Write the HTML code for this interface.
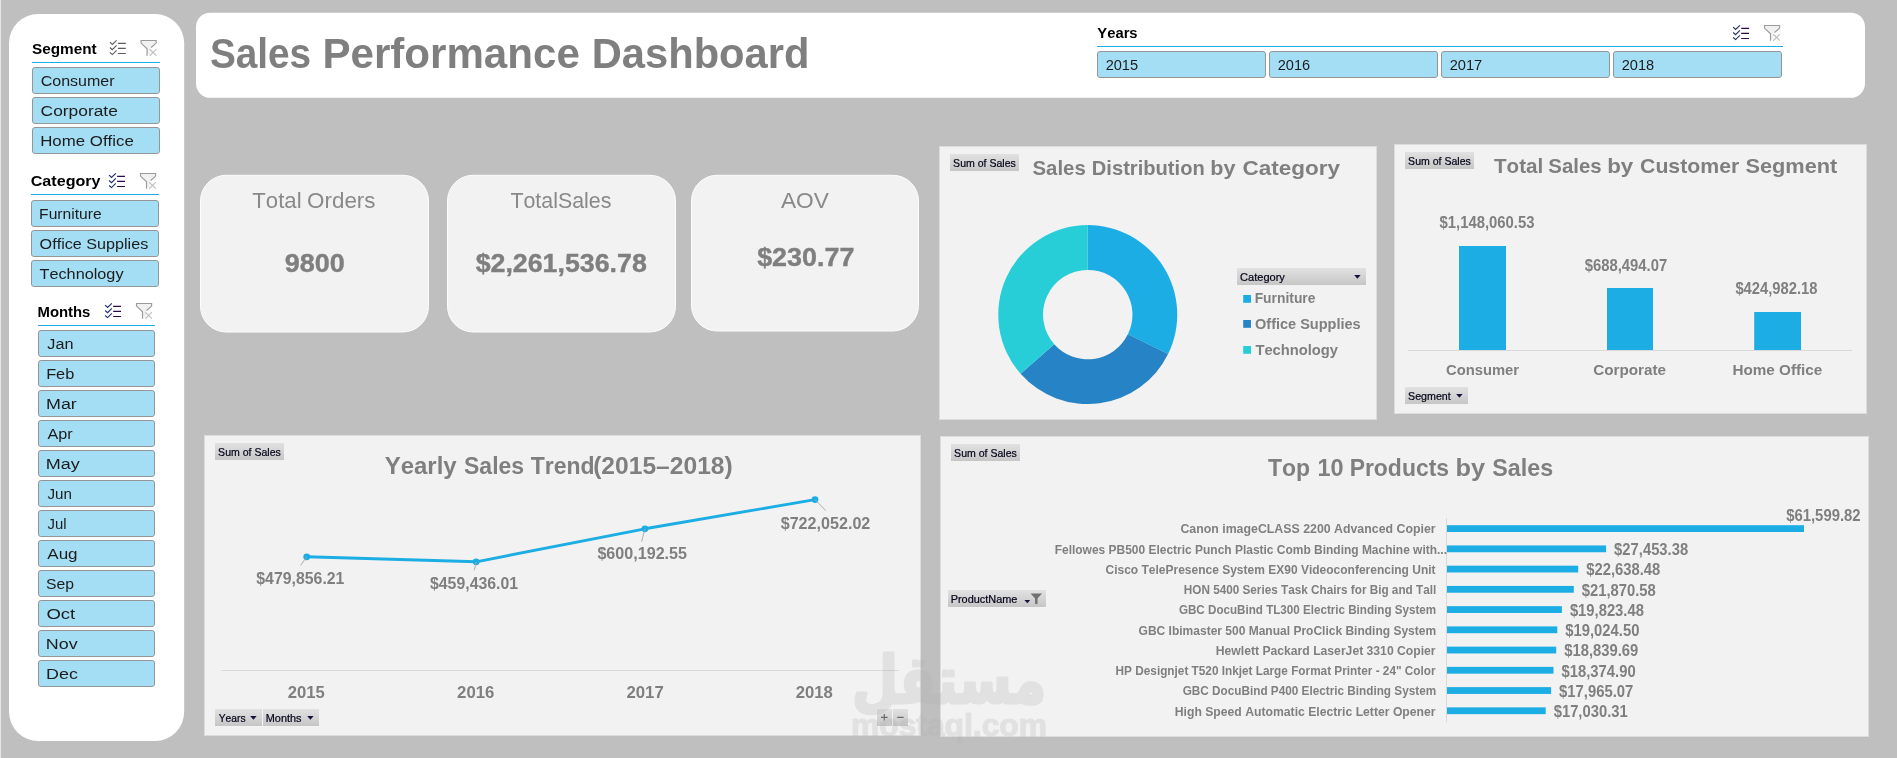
<!DOCTYPE html>
<html lang="en"><head><meta charset="utf-8"><title>Sales Performance Dashboard</title>
<style>html,body{margin:0;padding:0;background:#BFBFBF;overflow:hidden}svg{display:block;will-change:transform}text{font-family:"Liberation Sans",sans-serif;font-kerning:none}.wm{font-family:"DejaVu Sans","Liberation Sans",sans-serif}</style></head><body>
<svg width="1897" height="758" viewBox="0 0 1897 758">
<defs><linearGradient id="fb" x1="0" y1="0" x2="0" y2="1"><stop offset="0" stop-color="#E1E1E1"/><stop offset="0.5" stop-color="#D4D4D4"/><stop offset="1" stop-color="#C6C6C6"/></linearGradient></defs>
<rect width="1897" height="758" fill="#BFBFBF"/>
<rect x="0" y="0" width="1.12" height="758" fill="#E4E4E4"/>
<rect x="9" y="14" width="175.2" height="727" rx="29.2" fill="#fff"/>
<text x="32.06" y="54" font-size="14.7" fill="#000" font-weight="bold" textLength="64.63" lengthAdjust="spacingAndGlyphs">Segment</text>
<g transform="translate(109.6,40.2)" fill="none">
<path d="M0.3 2L2.7 4.3 7 0.1M0.3 7.3L2.7 9.45 7 5.15M0.3 12.3L2.7 14.4 7 10.1" stroke="#5c5c5c" stroke-width="1.1"/>
<path d="M8.3 3.2H16.2M8.3 8.2H16.2M8.3 13.3H16.2" stroke="#5c5c5c" stroke-width="1.2"/>
</g>
<g transform="translate(140.35,40.2)" fill="none">
<path d="M0.7 0.3H15.8V2.9L9.8 8.4V13L6.7 15.6V8.55L0.7 2.9Z" fill="#F1F1F1"/>
<path d="M6.7 15.6V8.55L0.7 2.9V0.3H15.8V2.9L10.8 7.35" stroke="#9A9A9A" stroke-width="1.15"/>
<path d="M9.4 9.1L16.1 15.4M16.1 8.9L9.4 15.6" stroke="#C2C2C2" stroke-width="1.25"/>
</g>
<rect x="32" y="62" width="128" height="1" fill="#1CADE4"/>
<rect x="32.5" y="67.5" width="127" height="26" rx="2.4" fill="#A4DEF4" stroke="#959595"/>
<text x="40.69" y="85.8" font-size="14.7" fill="#1c1c1c" textLength="73.88" lengthAdjust="spacingAndGlyphs">Consumer</text>
<rect x="32.5" y="97.5" width="127" height="26" rx="2.4" fill="#A4DEF4" stroke="#959595"/>
<text x="40.62" y="115.8" font-size="14.7" fill="#1c1c1c" textLength="77.25" lengthAdjust="spacingAndGlyphs">Corporate</text>
<rect x="32.5" y="127.5" width="127" height="26" rx="2.4" fill="#A4DEF4" stroke="#959595"/>
<text x="40.22" y="145.8" font-size="14.7" fill="#1c1c1c" textLength="93.53" lengthAdjust="spacingAndGlyphs">Home Office</text>
<text x="30.74" y="186.2" font-size="14.7" fill="#000" font-weight="bold" textLength="69.85" lengthAdjust="spacingAndGlyphs">Category</text>
<g transform="translate(108.8,173.2)" fill="none">
<path d="M0.3 2L2.7 4.3 7 0.1M0.3 7.3L2.7 9.45 7 5.15M0.3 12.3L2.7 14.4 7 10.1" stroke="#1d2b6b" stroke-width="1.1"/>
<path d="M8.3 3.2H16.2M8.3 8.2H16.2M8.3 13.3H16.2" stroke="#2b0b4d" stroke-width="1.2"/>
</g>
<g transform="translate(139.8,173.2)" fill="none">
<path d="M0.7 0.3H15.8V2.9L9.8 8.4V13L6.7 15.6V8.55L0.7 2.9Z" fill="#F1F1F1"/>
<path d="M6.7 15.6V8.55L0.7 2.9V0.3H15.8V2.9L10.8 7.35" stroke="#9A9A9A" stroke-width="1.15"/>
<path d="M9.4 9.1L16.1 15.4M16.1 8.9L9.4 15.6" stroke="#C2C2C2" stroke-width="1.25"/>
</g>
<rect x="31" y="194" width="128" height="1" fill="#1CADE4"/>
<rect x="31.5" y="200.5" width="127" height="26" rx="2.4" fill="#A4DEF4" stroke="#959595"/>
<text x="39.12" y="218.9" font-size="14.7" fill="#1c1c1c" textLength="62.58" lengthAdjust="spacingAndGlyphs">Furniture</text>
<rect x="31.5" y="230.5" width="127" height="26" rx="2.4" fill="#A4DEF4" stroke="#959595"/>
<text x="39.63" y="248.9" font-size="14.7" fill="#1c1c1c" textLength="108.65" lengthAdjust="spacingAndGlyphs">Office Supplies</text>
<rect x="31.5" y="260.5" width="127" height="26" rx="2.4" fill="#A4DEF4" stroke="#959595"/>
<text x="39.54" y="278.9" font-size="14.7" fill="#1c1c1c" textLength="84.0" lengthAdjust="spacingAndGlyphs">Technology</text>
<text x="37.5" y="316.6" font-size="14.7" fill="#000" font-weight="bold" textLength="52.91" lengthAdjust="spacingAndGlyphs">Months</text>
<g transform="translate(104.85,303.2)" fill="none">
<path d="M0.3 2L2.7 4.3 7 0.1M0.3 7.3L2.7 9.45 7 5.15M0.3 12.3L2.7 14.4 7 10.1" stroke="#1d2b6b" stroke-width="1.1"/>
<path d="M8.3 3.2H16.2M8.3 8.2H16.2M8.3 13.3H16.2" stroke="#2b0b4d" stroke-width="1.2"/>
</g>
<g transform="translate(135.8,303.2)" fill="none">
<path d="M0.7 0.3H15.8V2.9L9.8 8.4V13L6.7 15.6V8.55L0.7 2.9Z" fill="#F1F1F1"/>
<path d="M6.7 15.6V8.55L0.7 2.9V0.3H15.8V2.9L10.8 7.35" stroke="#9A9A9A" stroke-width="1.15"/>
<path d="M9.4 9.1L16.1 15.4M16.1 8.9L9.4 15.6" stroke="#C2C2C2" stroke-width="1.25"/>
</g>
<rect x="38" y="325" width="117" height="1" fill="#1CADE4"/>
<rect x="38.5" y="330.5" width="116" height="26" rx="2.4" fill="#A4DEF4" stroke="#959595"/>
<text x="47.25" y="348.9" font-size="14.7" fill="#1c1c1c" textLength="26.21" lengthAdjust="spacingAndGlyphs">Jan</text>
<rect x="38.5" y="360.5" width="116" height="26" rx="2.4" fill="#A4DEF4" stroke="#959595"/>
<text x="46.16" y="378.9" font-size="14.7" fill="#1c1c1c" textLength="28.12" lengthAdjust="spacingAndGlyphs">Feb</text>
<rect x="38.5" y="390.5" width="116" height="26" rx="2.4" fill="#A4DEF4" stroke="#959595"/>
<text x="46.03" y="408.9" font-size="14.7" fill="#1c1c1c" textLength="30.76" lengthAdjust="spacingAndGlyphs">Mar</text>
<rect x="38.5" y="420.5" width="116" height="26" rx="2.4" fill="#A4DEF4" stroke="#959595"/>
<text x="47.47" y="438.9" font-size="14.7" fill="#1c1c1c" textLength="25.2" lengthAdjust="spacingAndGlyphs">Apr</text>
<rect x="38.5" y="450.5" width="116" height="26" rx="2.4" fill="#A4DEF4" stroke="#959595"/>
<text x="45.82" y="468.9" font-size="14.7" fill="#1c1c1c" textLength="34.01" lengthAdjust="spacingAndGlyphs">May</text>
<rect x="38.5" y="480.5" width="116" height="26" rx="2.4" fill="#A4DEF4" stroke="#959595"/>
<text x="47.56" y="498.9" font-size="14.7" fill="#1c1c1c" textLength="24.42" lengthAdjust="spacingAndGlyphs">Jun</text>
<rect x="38.5" y="510.5" width="116" height="26" rx="2.4" fill="#A4DEF4" stroke="#959595"/>
<text x="47.57" y="528.9" font-size="14.7" fill="#1c1c1c" textLength="19.03" lengthAdjust="spacingAndGlyphs">Jul</text>
<rect x="38.5" y="540.5" width="116" height="26" rx="2.4" fill="#A4DEF4" stroke="#959595"/>
<text x="47.27" y="558.9" font-size="14.7" fill="#1c1c1c" textLength="30.33" lengthAdjust="spacingAndGlyphs">Aug</text>
<rect x="38.5" y="570.5" width="116" height="26" rx="2.4" fill="#A4DEF4" stroke="#959595"/>
<text x="46.09" y="588.9" font-size="14.7" fill="#1c1c1c" textLength="27.97" lengthAdjust="spacingAndGlyphs">Sep</text>
<rect x="38.5" y="600.5" width="116" height="26" rx="2.4" fill="#A4DEF4" stroke="#959595"/>
<text x="46.42" y="618.9" font-size="14.7" fill="#1c1c1c" textLength="28.81" lengthAdjust="spacingAndGlyphs">Oct</text>
<rect x="38.5" y="630.5" width="116" height="26" rx="2.4" fill="#A4DEF4" stroke="#959595"/>
<text x="45.83" y="648.9" font-size="14.7" fill="#1c1c1c" textLength="31.83" lengthAdjust="spacingAndGlyphs">Nov</text>
<rect x="38.5" y="660.5" width="116" height="26" rx="2.4" fill="#A4DEF4" stroke="#959595"/>
<text x="46.03" y="678.9" font-size="14.7" fill="#1c1c1c" textLength="31.84" lengthAdjust="spacingAndGlyphs">Dec</text>
<rect x="196" y="12.7" width="1669" height="85.1" rx="14.2" fill="#fff"/>
<text x="209.88" y="68" font-size="43" fill="#7F7F7F" font-weight="bold" textLength="101.31" lengthAdjust="spacingAndGlyphs">Sales</text>
<text x="322.38" y="68" font-size="43" fill="#7F7F7F" font-weight="bold" textLength="257.46" lengthAdjust="spacingAndGlyphs">Performance</text>
<text x="591.71" y="68" font-size="43" fill="#7F7F7F" font-weight="bold" textLength="217.74" lengthAdjust="spacingAndGlyphs">Dashboard</text>
<text x="1097.35" y="37.8" font-size="14.7" fill="#000" font-weight="bold" textLength="40.26" lengthAdjust="spacingAndGlyphs">Years</text>
<g transform="translate(1732.9,25.2)" fill="none">
<path d="M0.3 2L2.7 4.3 7 0.1M0.3 7.3L2.7 9.45 7 5.15M0.3 12.3L2.7 14.4 7 10.1" stroke="#1d2b6b" stroke-width="1.1"/>
<path d="M8.3 3.2H16.2M8.3 8.2H16.2M8.3 13.3H16.2" stroke="#2b0b4d" stroke-width="1.2"/>
</g>
<g transform="translate(1763.8,25.2)" fill="none">
<path d="M0.7 0.3H15.8V2.9L9.8 8.4V13L6.7 15.6V8.55L0.7 2.9Z" fill="#F1F1F1"/>
<path d="M6.7 15.6V8.55L0.7 2.9V0.3H15.8V2.9L10.8 7.35" stroke="#9A9A9A" stroke-width="1.15"/>
<path d="M9.4 9.1L16.1 15.4M16.1 8.9L9.4 15.6" stroke="#C2C2C2" stroke-width="1.25"/>
</g>
<rect x="1097" y="46" width="686" height="1" fill="#1CADE4"/>
<rect x="1097.5" y="51.5" width="168" height="26" rx="2.4" fill="#A4DEF4" stroke="#959595"/>
<text x="1105.67" y="69.8" font-size="14.7" fill="#1c1c1c" textLength="32.45" lengthAdjust="spacingAndGlyphs">2015</text>
<rect x="1269.5" y="51.5" width="168" height="26" rx="2.4" fill="#A4DEF4" stroke="#959595"/>
<text x="1277.67" y="69.8" font-size="14.7" fill="#1c1c1c" textLength="32.48" lengthAdjust="spacingAndGlyphs">2016</text>
<rect x="1441.5" y="51.5" width="168" height="26" rx="2.4" fill="#A4DEF4" stroke="#959595"/>
<text x="1449.66" y="69.8" font-size="14.7" fill="#1c1c1c" textLength="32.57" lengthAdjust="spacingAndGlyphs">2017</text>
<rect x="1613.5" y="51.5" width="168" height="26" rx="2.4" fill="#A4DEF4" stroke="#959595"/>
<text x="1621.67" y="69.8" font-size="14.7" fill="#1c1c1c" textLength="32.47" lengthAdjust="spacingAndGlyphs">2018</text>
<rect x="200.5" y="175.25" width="228" height="156.75" rx="25.7" fill="#F2F2F2" stroke="#FDFDFD" stroke-width="1"/>
<text x="252.3" y="208" font-size="21.2" fill="#898989" textLength="49.28" lengthAdjust="spacingAndGlyphs">Total</text>
<text x="307.14" y="208" font-size="21.2" fill="#898989" textLength="68.37" lengthAdjust="spacingAndGlyphs">Orders</text>
<text x="284.76" y="272.4" font-size="25.6" fill="#7F7F7F" font-weight="bold" textLength="60.04" lengthAdjust="spacingAndGlyphs" stroke="#7F7F7F" stroke-width="0.4">9800</text>
<rect x="447.5" y="175.25" width="228" height="156.75" rx="25.7" fill="#F2F2F2" stroke="#FDFDFD" stroke-width="1"/>
<text x="510.42" y="208" font-size="21.2" fill="#898989" textLength="100.95" lengthAdjust="spacingAndGlyphs">TotalSales</text>
<text x="475.65" y="272.4" font-size="25.6" fill="#7F7F7F" font-weight="bold" textLength="171.18" lengthAdjust="spacingAndGlyphs" stroke="#7F7F7F" stroke-width="0.4">$2,261,536.78</text>
<rect x="691.5" y="175.25" width="227" height="155.75" rx="25.7" fill="#F2F2F2" stroke="#FDFDFD" stroke-width="1"/>
<text x="780.96" y="208" font-size="21.2" fill="#898989" textLength="47.94" lengthAdjust="spacingAndGlyphs">AOV</text>
<text x="757.15" y="265.6" font-size="25.6" fill="#7F7F7F" font-weight="bold" textLength="97.24" lengthAdjust="spacingAndGlyphs" stroke="#7F7F7F" stroke-width="0.4">$230.77</text>
<rect x="939.5" y="146.5" width="437" height="273" fill="#F2F2F2" stroke="#DCDCDC"/>
<rect x="950" y="154" width="69" height="17" fill="url(#fb)"/>
<text x="953.12" y="166.7" font-size="10.9" fill="#05051c" textLength="62.66" lengthAdjust="spacingAndGlyphs" stroke="#05051c" stroke-width="0.22">Sum of Sales</text>
<text x="1032.51" y="174.8" font-size="20.4" fill="#7F7F7F" font-weight="bold" textLength="53.32" lengthAdjust="spacingAndGlyphs">Sales</text>
<text x="1091.85" y="174.8" font-size="20.4" fill="#7F7F7F" font-weight="bold" textLength="112.89" lengthAdjust="spacingAndGlyphs">Distribution</text>
<text x="1210.27" y="174.8" font-size="20.4" fill="#7F7F7F" font-weight="bold" textLength="25.24" lengthAdjust="spacingAndGlyphs">by</text>
<text x="1242.48" y="174.8" font-size="20.4" fill="#7F7F7F" font-weight="bold" textLength="97.54" lengthAdjust="spacingAndGlyphs">Category</text>
<path d="M1087.75 225.10A89.5 89.5 0 0 1 1168.05 354.11L1127.86 334.34A44.7 44.7 0 0 0 1087.75 269.90Z" fill="#1CADE4"/>
<path d="M1168.05 354.11A89.5 89.5 0 0 1 1020.62 373.79L1054.22 344.16A44.7 44.7 0 0 0 1127.86 334.34Z" fill="#2683C6"/>
<path d="M1020.62 373.79A89.5 89.5 0 0 1 1087.75 225.10L1087.75 269.90A44.7 44.7 0 0 0 1054.22 344.16Z" fill="#27CED7"/>
<rect x="1237" y="268" width="129" height="17" fill="url(#fb)"/>
<text x="1240.04" y="280.7" font-size="10.9" fill="#05051c" textLength="44.88" lengthAdjust="spacingAndGlyphs" stroke="#05051c" stroke-width="0.22">Category</text>
<path d="M1354.2 275.1h6.4l-3.2 3.7z" fill="#1a0f3a"/>
<rect x="1243.2" y="295" width="7.8" height="7.8" fill="#1CADE4"/>
<text x="1254.67" y="303.3" font-size="14" fill="#7F7F7F" font-weight="bold" textLength="60.8" lengthAdjust="spacingAndGlyphs">Furniture</text>
<rect x="1243.2" y="320" width="7.8" height="7.8" fill="#2683C6"/>
<text x="1255.0" y="329.1" font-size="14" fill="#7F7F7F" font-weight="bold" textLength="105.69" lengthAdjust="spacingAndGlyphs">Office Supplies</text>
<rect x="1243.2" y="346" width="7.8" height="7.8" fill="#27CED7"/>
<text x="1255.43" y="354.7" font-size="14" fill="#7F7F7F" font-weight="bold" textLength="82.54" lengthAdjust="spacingAndGlyphs">Technology</text>
<rect x="1394.5" y="144.5" width="472" height="269" fill="#F2F2F2" stroke="#DCDCDC"/>
<rect x="1405" y="152" width="69" height="17" fill="url(#fb)"/>
<text x="1408.12" y="164.7" font-size="10.9" fill="#05051c" textLength="62.66" lengthAdjust="spacingAndGlyphs" stroke="#05051c" stroke-width="0.22">Sum of Sales</text>
<text x="1493.97" y="173" font-size="20.4" fill="#7F7F7F" font-weight="bold" textLength="49.29" lengthAdjust="spacingAndGlyphs">Total</text>
<text x="1548.31" y="173" font-size="20.4" fill="#7F7F7F" font-weight="bold" textLength="53.32" lengthAdjust="spacingAndGlyphs">Sales</text>
<text x="1607.23" y="173" font-size="20.4" fill="#7F7F7F" font-weight="bold" textLength="26.09" lengthAdjust="spacingAndGlyphs">by</text>
<text x="1640.03" y="173" font-size="20.4" fill="#7F7F7F" font-weight="bold" textLength="99.29" lengthAdjust="spacingAndGlyphs">Customer</text>
<text x="1745.47" y="173" font-size="20.4" fill="#7F7F7F" font-weight="bold" textLength="91.89" lengthAdjust="spacingAndGlyphs">Segment</text>
<rect x="1408" y="350" width="444" height="1" fill="#D9D9D9"/>
<rect x="1459" y="246" width="47" height="104" fill="#1CADE4"/>
<text x="1439.5" y="228.4" font-size="15.8" fill="#7F7F7F" font-weight="bold" textLength="95.03" lengthAdjust="spacingAndGlyphs">$1,148,060.53</text>
<text x="1445.99" y="374.8" font-size="14.7" fill="#7F7F7F" font-weight="bold" textLength="73.03" lengthAdjust="spacingAndGlyphs">Consumer</text>
<rect x="1607" y="288" width="46" height="62" fill="#1CADE4"/>
<text x="1584.7" y="271.2" font-size="15.8" fill="#7F7F7F" font-weight="bold" textLength="82.55" lengthAdjust="spacingAndGlyphs">$688,494.07</text>
<text x="1593.17" y="374.8" font-size="14.7" fill="#7F7F7F" font-weight="bold" textLength="72.85" lengthAdjust="spacingAndGlyphs">Corporate</text>
<rect x="1754.2" y="312" width="46.799999999999955" height="38" fill="#1CADE4"/>
<text x="1735.41" y="294" font-size="15.8" fill="#7F7F7F" font-weight="bold" textLength="82.15" lengthAdjust="spacingAndGlyphs">$424,982.18</text>
<text x="1732.48" y="374.8" font-size="14.7" fill="#7F7F7F" font-weight="bold" textLength="89.74" lengthAdjust="spacingAndGlyphs">Home Office</text>
<rect x="1405" y="387" width="63" height="17" fill="url(#fb)"/>
<text x="1408.12" y="399.7" font-size="10.9" fill="#05051c" textLength="42.56" lengthAdjust="spacingAndGlyphs" stroke="#05051c" stroke-width="0.22">Segment</text>
<path d="M1456.2 394.1h6.4l-3.2 3.7z" fill="#1a0f3a"/>
<rect x="204.5" y="435.5" width="716" height="300" fill="#F2F2F2" stroke="#DCDCDC"/>
<rect x="215" y="443" width="69" height="17" fill="url(#fb)"/>
<text x="218.12" y="455.7" font-size="10.9" fill="#05051c" textLength="62.66" lengthAdjust="spacingAndGlyphs" stroke="#05051c" stroke-width="0.22">Sum of Sales</text>
<text x="384.69" y="473.9" font-size="23.5" fill="#7F7F7F" font-weight="bold" textLength="71.94" lengthAdjust="spacingAndGlyphs">Yearly</text>
<text x="464.04" y="473.9" font-size="23.5" fill="#7F7F7F" font-weight="bold" textLength="60.11" lengthAdjust="spacingAndGlyphs">Sales</text>
<text x="530.74" y="473.9" font-size="23.5" fill="#7F7F7F" font-weight="bold" textLength="63.87" lengthAdjust="spacingAndGlyphs">Trend</text>
<text x="593.17" y="473.9" font-size="23.5" fill="#7F7F7F" font-weight="bold" textLength="139.55" lengthAdjust="spacingAndGlyphs">(2015–2018)</text>
<rect x="221.5" y="670" width="677.5" height="1" fill="#D9D9D9"/>
<polyline points="306.7,556.8 476.1,561.8 644.9,528.8 815,499.6" fill="none" stroke="#1CADE4" stroke-width="2.9" stroke-linejoin="round" stroke-linecap="round"/>
<circle cx="306.7" cy="556.8" r="3.4" fill="#1CADE4"/>
<circle cx="476.1" cy="561.8" r="3.4" fill="#1CADE4"/>
<circle cx="644.9" cy="528.8" r="3.4" fill="#1CADE4"/>
<circle cx="815" cy="499.6" r="3.4" fill="#1CADE4"/>
<g stroke="#A6A6A6" stroke-width="0.9" fill="none"><path d="M306.7 556.8L300.6 565.4M476 562L474.4 570.4M644.8 529L641.6 541.6M815 499.6L825.8 510.6"/></g>
<text x="256.29" y="584" font-size="16.4" fill="#7F7F7F" font-weight="bold" textLength="88.15" lengthAdjust="spacingAndGlyphs">$479,856.21</text>
<text x="429.99" y="589.1" font-size="16.4" fill="#7F7F7F" font-weight="bold" textLength="88.15" lengthAdjust="spacingAndGlyphs">$459,436.01</text>
<text x="597.39" y="558.8" font-size="16.4" fill="#7F7F7F" font-weight="bold" textLength="89.66" lengthAdjust="spacingAndGlyphs">$600,192.55</text>
<text x="780.69" y="528.8" font-size="16.4" fill="#7F7F7F" font-weight="bold" textLength="89.66" lengthAdjust="spacingAndGlyphs">$722,052.02</text>
<text x="287.82" y="697.9" font-size="16.4" fill="#7F7F7F" font-weight="bold" textLength="37.04" lengthAdjust="spacingAndGlyphs">2015</text>
<text x="457.12" y="697.9" font-size="16.4" fill="#7F7F7F" font-weight="bold" textLength="37.18" lengthAdjust="spacingAndGlyphs">2016</text>
<text x="626.42" y="697.9" font-size="16.4" fill="#7F7F7F" font-weight="bold" textLength="37.32" lengthAdjust="spacingAndGlyphs">2017</text>
<text x="795.72" y="697.9" font-size="16.4" fill="#7F7F7F" font-weight="bold" textLength="37.09" lengthAdjust="spacingAndGlyphs">2018</text>
<rect x="215" y="709" width="47" height="17" fill="url(#fb)"/>
<text x="218.67" y="721.7" font-size="10.9" fill="#05051c" textLength="26.9" lengthAdjust="spacingAndGlyphs" stroke="#05051c" stroke-width="0.22">Years</text>
<path d="M250.2 716.1h6.4l-3.2 3.7z" fill="#1a0f3a"/>
<rect x="263" y="709" width="56" height="17" fill="url(#fb)"/>
<text x="265.81" y="721.7" font-size="10.9" fill="#05051c" textLength="35.69" lengthAdjust="spacingAndGlyphs" stroke="#05051c" stroke-width="0.22">Months</text>
<path d="M307.2 716.1h6.4l-3.2 3.7z" fill="#1a0f3a"/>
<rect x="877" y="709" width="15" height="17" fill="url(#fb)"/><rect x="893" y="709" width="15" height="17" fill="url(#fb)"/>
<path d="M881 717.3h6.6M884.3 714v6.6M897.2 717.3h6.4" stroke="#6b6b6b" stroke-width="1.2" fill="none"/>
<rect x="940.5" y="436.5" width="928" height="300" fill="#F2F2F2" stroke="#DCDCDC"/>
<rect x="951" y="444" width="69" height="17" fill="url(#fb)"/>
<text x="954.12" y="456.7" font-size="10.9" fill="#05051c" textLength="62.66" lengthAdjust="spacingAndGlyphs" stroke="#05051c" stroke-width="0.22">Sum of Sales</text>
<text x="1267.94" y="475.9" font-size="23.7" fill="#7F7F7F" font-weight="bold" textLength="42.1" lengthAdjust="spacingAndGlyphs">Top</text>
<text x="1317.42" y="475.9" font-size="23.7" fill="#7F7F7F" font-weight="bold" textLength="26.14" lengthAdjust="spacingAndGlyphs">10</text>
<text x="1349.67" y="475.9" font-size="23.7" fill="#7F7F7F" font-weight="bold" textLength="99.37" lengthAdjust="spacingAndGlyphs">Products</text>
<text x="1455.43" y="475.9" font-size="23.7" fill="#7F7F7F" font-weight="bold" textLength="29.61" lengthAdjust="spacingAndGlyphs">by</text>
<text x="1492.33" y="475.9" font-size="23.7" fill="#7F7F7F" font-weight="bold" textLength="60.83" lengthAdjust="spacingAndGlyphs">Sales</text>
<rect x="1446" y="518.3" width="1" height="204" fill="#D9D9D9"/>
<rect x="1447" y="525.20" width="357.0" height="6.8" fill="#1CADE4"/>
<text x="1180.39" y="533.3" font-size="13.1" fill="#7F7F7F" font-weight="bold" textLength="255.19" lengthAdjust="spacingAndGlyphs">Canon imageCLASS 2200 Advanced Copier</text>
<text x="1786.2" y="521.4" font-size="16.4" fill="#7F7F7F" font-weight="bold" textLength="74.39" lengthAdjust="spacingAndGlyphs">$61,599.82</text>
<rect x="1447" y="545.44" width="159.1" height="6.8" fill="#1CADE4"/>
<text x="1054.7" y="553.5" font-size="13.1" fill="#7F7F7F" font-weight="bold" textLength="392.32" lengthAdjust="spacingAndGlyphs">Fellowes PB500 Electric Punch Plastic Comb Binding Machine with...</text>
<text x="1614.11" y="555.1" font-size="16.4" fill="#7F7F7F" font-weight="bold" textLength="74.05" lengthAdjust="spacingAndGlyphs">$27,453.38</text>
<rect x="1447" y="565.68" width="131.2" height="6.8" fill="#1CADE4"/>
<text x="1105.51" y="573.8" font-size="13.1" fill="#7F7F7F" font-weight="bold" textLength="330.04" lengthAdjust="spacingAndGlyphs">Cisco TelePresence System EX90 Videoconferencing Unit</text>
<text x="1586.21" y="575.4" font-size="16.4" fill="#7F7F7F" font-weight="bold" textLength="74.05" lengthAdjust="spacingAndGlyphs">$22,638.48</text>
<rect x="1447" y="585.92" width="126.8" height="6.8" fill="#1CADE4"/>
<text x="1183.81" y="594.0" font-size="13.1" fill="#7F7F7F" font-weight="bold" textLength="252.42" lengthAdjust="spacingAndGlyphs">HON 5400 Series Task Chairs for Big and Tall</text>
<text x="1581.76" y="595.6" font-size="16.4" fill="#7F7F7F" font-weight="bold" textLength="74.05" lengthAdjust="spacingAndGlyphs">$21,870.58</text>
<rect x="1447" y="606.16" width="114.9" height="6.8" fill="#1CADE4"/>
<text x="1178.92" y="614.3" font-size="13.1" fill="#7F7F7F" font-weight="bold" textLength="257.2" lengthAdjust="spacingAndGlyphs">GBC DocuBind TL300 Electric Binding System</text>
<text x="1569.89" y="615.9" font-size="16.4" fill="#7F7F7F" font-weight="bold" textLength="74.05" lengthAdjust="spacingAndGlyphs">$19,823.48</text>
<rect x="1447" y="626.40" width="110.3" height="6.8" fill="#1CADE4"/>
<text x="1138.61" y="634.5" font-size="13.1" fill="#7F7F7F" font-weight="bold" textLength="297.54" lengthAdjust="spacingAndGlyphs">GBC Ibimaster 500 Manual ProClick Binding System</text>
<text x="1565.26" y="636.1" font-size="16.4" fill="#7F7F7F" font-weight="bold" textLength="74.2" lengthAdjust="spacingAndGlyphs">$19,024.50</text>
<rect x="1447" y="646.64" width="109.2" height="6.8" fill="#1CADE4"/>
<text x="1215.79" y="654.7" font-size="13.1" fill="#7F7F7F" font-weight="bold" textLength="219.8" lengthAdjust="spacingAndGlyphs">Hewlett Packard LaserJet 3310 Copier</text>
<text x="1564.19" y="656.3" font-size="16.4" fill="#7F7F7F" font-weight="bold" textLength="74.15" lengthAdjust="spacingAndGlyphs">$18,839.69</text>
<rect x="1447" y="666.88" width="106.5" height="6.8" fill="#1CADE4"/>
<text x="1115.61" y="675.0" font-size="13.1" fill="#7F7F7F" font-weight="bold" textLength="319.97" lengthAdjust="spacingAndGlyphs">HP Designjet T520 Inkjet Large Format Printer - 24" Color</text>
<text x="1561.5" y="676.6" font-size="16.4" fill="#7F7F7F" font-weight="bold" textLength="74.2" lengthAdjust="spacingAndGlyphs">$18,374.90</text>
<rect x="1447" y="687.12" width="104.1" height="6.8" fill="#1CADE4"/>
<text x="1182.72" y="695.2" font-size="13.1" fill="#7F7F7F" font-weight="bold" textLength="253.41" lengthAdjust="spacingAndGlyphs">GBC DocuBind P400 Electric Binding System</text>
<text x="1559.12" y="696.8" font-size="16.4" fill="#7F7F7F" font-weight="bold" textLength="74.25" lengthAdjust="spacingAndGlyphs">$17,965.07</text>
<rect x="1447" y="707.36" width="98.7" height="6.8" fill="#1CADE4"/>
<text x="1174.78" y="715.5" font-size="13.1" fill="#7F7F7F" font-weight="bold" textLength="260.8" lengthAdjust="spacingAndGlyphs">High Speed Automatic Electric Letter Opener</text>
<text x="1553.7" y="717.1" font-size="16.4" fill="#7F7F7F" font-weight="bold" textLength="74.01" lengthAdjust="spacingAndGlyphs">$17,030.31</text>
<rect x="948" y="590" width="98" height="17" fill="url(#fb)"/>
<text x="950.71" y="602.7" font-size="10.9" fill="#05051c" textLength="66.68" lengthAdjust="spacingAndGlyphs" stroke="#05051c" stroke-width="0.22">ProductName</text>
<path d="M1024.4 600h5.8l-2.9 3.3z" fill="#1a0f3a"/>
<path d="M1030.6 593.6h11.4l-4.5 4.8v5.6h-2.4v-5.6z" fill="#707070"/>
<g opacity="0.25" fill="#B2B2B2" stroke="#B2B2B2" stroke-linejoin="round" font-weight="bold">
<text class="wm" x="949" y="703" font-size="66" stroke-width="3.2" text-anchor="middle" textLength="194" lengthAdjust="spacingAndGlyphs">مستقل</text>
<text x="949" y="735.5" font-size="31" stroke-width="1.2" text-anchor="middle" textLength="196" lengthAdjust="spacingAndGlyphs">mostaql.com</text>
</g>
</svg></body></html>
